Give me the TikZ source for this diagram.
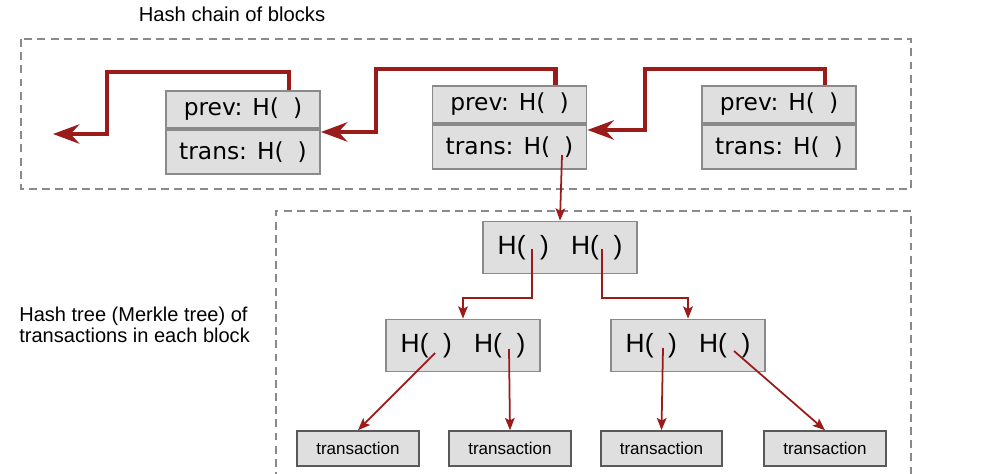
\documentclass[tikz,border=0pt]{standalone}
\usepackage{fontspec}
\setmainfont{Liberation Sans}
\newfontfamily\blockfont{DejaVu Sans}
\usetikzlibrary{positioning,arrows.meta}
\definecolor{linkred}{HTML}{9B1B1B}
\definecolor{boxgray}{HTML}{DFDFDF}
\definecolor{edgegray}{HTML}{8A8A8A}
\tikzset{
  frame/.style={draw=edgegray, line width=1.1pt, dash pattern=on 4.5pt off 3pt},
  block/.style={draw=edgegray, fill=boxgray, line width=1.1pt, minimum width=3.08cm, inner sep=0pt, font=\blockfont\fontsize{13.3}{15}\selectfont},
  prevbox/.style={block, minimum height=0.74cm},
  transbox/.style={block, minimum height=0.88cm},
  hashbox/.style={draw=edgegray, fill=boxgray, line width=0.7pt, minimum width=3.08cm, minimum height=1.05cm, inner sep=0pt, font=\fontsize{15}{17}\selectfont},
  txbox/.style={draw=black!65, fill=boxgray, line width=0.9pt, minimum width=2.43cm, minimum height=0.7cm, inner sep=0pt, font=\fontsize{9.7}{11}\selectfont},
  chain/.style={draw=linkred, line width=2.3pt, -{Stealth[length=15pt,width=11pt,inset=5pt]}},
  link/.style={draw=linkred, line width=1pt, -{Stealth[length=7pt,width=5.5pt,inset=1.5pt]}},
}
\newcommand{\hh}{H(\hspace{0.55em})}

\begin{document}
\begin{tikzpicture}[x=0.02cm, y=-0.02cm]
\useasboundingbox (0,0) rectangle (1000,473);
\node[font=\fontsize{11.5}{13}\selectfont] (chaintitle) at (232,14) {Hash chain of blocks};
\node[anchor=west, align=left, inner sep=0pt, font=\fontsize{11.4}{11.6}\selectfont] (treetitle) at (19,325) {Hash tree (Merkle tree) of\\transactions in each block};
\draw[frame] (21,39) rectangle (911,189);
\draw[frame] (276,480) |- (911,211) -- (911,480);

\node[prevbox] (b1p) at (243,109.5) {prev: H(\hspace{0.6em})};
\node[transbox, below=0pt of b1p] (b1t) {trans: H(\hspace{0.6em})};
\node[prevbox] (b2p) at (509.5,104.5) {prev: H(\hspace{0.6em})};
\node[transbox, below=0pt of b2p] (b2t) {trans: H(\hspace{0.6em})};
\node[prevbox] (b3p) at (779,104.5) {prev: H(\hspace{0.6em})};
\node[transbox, below=0pt of b3p] (b3t) {trans: H(\hspace{0.6em})};

\node[hashbox] (root) at (560,247.5) {\hh\hspace{0.85em}\hh};
\node[hashbox] (midL) at (463,345.5) {\hh\hspace{0.85em}\hh};
\node[hashbox] (midR) at (688,345.5) {\hh\hspace{0.85em}\hh};
\node[txbox] (tx1) at (358,448.5) {transaction};
\node[txbox] (tx2) at (510,448.5) {transaction};
\node[txbox] (tx3) at (661.5,448.5) {transaction};
\node[txbox] (tx4) at (825,448.5) {transaction};

\coordinate (chainend) at (53,134);
\coordinate (b2h) at (562,155);
\coordinate (rootL) at (532,249);
\coordinate (rootR) at (602,249);
\coordinate (midLa) at (435,353);
\coordinate (midLb) at (509,349);
\coordinate (midRa) at (663,348);
\coordinate (midRb) at (734,351);

\draw[chain] ([xshift=0.92cm]b1p.north) |- (107,72) |- (chainend);
\draw[chain] ([xshift=0.92cm]b2p.north) |- (376,69) |- ([yshift=-0.06cm]b1p.south east);
\draw[chain] ([xshift=0.92cm]b3p.north) |- (645,69) |- ([yshift=-0.12cm]b2p.south east);

\draw[link] (b2h) -- (root.north);
\draw[link] (rootL) -- ++(0,49) -| (midL.north);
\draw[link] (rootR) -- ++(0,49) -| (midR.north);
\draw[link] (midLa) -- (tx1.north);
\draw[link] (midLb) -- (tx2.north);
\draw[link] (midRa) -- (tx3.north);
\draw[link] (midRb) -- (tx4.north);
\end{tikzpicture}
\end{document}
